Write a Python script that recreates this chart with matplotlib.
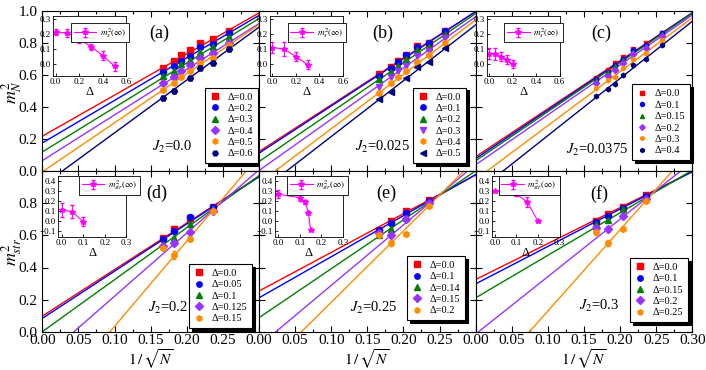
import numpy as np
import matplotlib
matplotlib.use('Agg')
import matplotlib.pyplot as plt
from matplotlib.ticker import MultipleLocator, FuncFormatter

plt.rcParams['font.family'] = 'serif'
plt.rcParams['font.serif'] = ['Liberation Serif', 'DejaVu Serif']
plt.rcParams['mathtext.fontset'] = 'stix'

W, H = 706, 370
COLORS = ['#ff0000', '#0000ff', '#008000', '#9933ff', '#ff8c00', '#000080']
MAGENTA = '#ff00ff'

# 1/sqrt(N) of the clusters
X_TOP = [0.1667, 0.1826, 0.1925, 0.2041, 0.2182, 0.2357, 0.2582]
X_BOT = [0.1667, 0.1826, 0.2041, 0.2357]

# ---- (a) J2 = 0.0
A_DELTA = ['0.0', '0.2', '0.3', '0.4', '0.5', '0.6']
A_Y = [[0.645, 0.689, 0.722, 0.756, 0.801, 0.822, 0.876],
       [0.619, 0.656, 0.687, 0.718, 0.773, 0.793, 0.860],
       [0.592, 0.627, 0.667, 0.693, 0.745, 0.776, 0.835],
       [0.548, 0.589, 0.627, 0.662, 0.708, 0.739, 0.801],
       [0.507, 0.548, 0.588, 0.625, 0.673, 0.708, 0.785],
       [0.455, 0.502, np.nan, 0.583, 0.645, 0.673, 0.760]]
A_B = [0.218, 0.176, 0.120, 0.066, -0.004, -0.090]
A_M = [2.56, 2.65, 2.77, 2.846, 3.056, 3.29]
A_INS_D = [0.0, 0.1, 0.2, 0.3, 0.4, 0.5]
A_INS_M = [0.213, 0.206, 0.167, 0.116, 0.056, -0.014]
A_INS_E = [0.02, 0.025, 0.025, 0.02, 0.03, 0.03]

# ---- (b) J2 = 0.025
B_DELTA = ['0.0', '0.1', '0.2', '0.3', '0.4', '0.5']
B_Y = [[0.604, 0.648, 0.689, 0.725, 0.783, 0.801, 0.874],
       [0.594, 0.642, 0.683, 0.721, 0.773, 0.797, 0.872],
       [0.575, 0.621, 0.656, 0.698, 0.756, 0.776, 0.854],
       [0.527, 0.586, 0.625, 0.658, 0.718, 0.750, 0.829],
       [0.486, 0.552, 0.586, 0.627, 0.683, 0.725, 0.801],
       [0.450, 0.496, np.nan, 0.583, 0.648, 0.679, 0.766]]
B_B = [0.122, 0.112, 0.060, 0.004, -0.075, -0.132]
B_M = [2.91, 2.94, 3.075, 3.195, 3.39, 3.478]
B_INS_D = [0.0, 0.1, 0.2, 0.3]
B_INS_M = [0.11, 0.10, 0.05, -0.005]
B_INS_E = [0.035, 0.045, 0.03, 0.03]

# ---- (c) J2 = 0.0375
C_DELTA = ['0.0', '0.1', '0.15', '0.2', '0.3', '0.4']
C_Y = [[0.579, 0.631, 0.673, 0.710, 0.762, 0.797, 0.864],
       [0.573, 0.621, 0.662, 0.700, 0.756, 0.787, 0.860],
       [0.569, 0.615, 0.656, 0.694, 0.745, 0.781, 0.855],
       [0.548, 0.596, 0.631, 0.673, 0.731, 0.766, 0.843],
       [0.517, 0.569, 0.589, 0.642, 0.698, 0.735, 0.818],
       [0.469, 0.511, 0.542, 0.600, 0.662, 0.698, 0.787]]
C_B = [0.090, 0.078, 0.065, 0.040, -0.052, -0.134]
C_M = [2.99, 3.03, 3.06, 3.11, 3.36, 3.56]
C_INS_D = [0.0, 0.05, 0.1, 0.15, 0.2]
C_INS_M = [0.07, 0.07, 0.05, 0.03, 0.0]
C_INS_E = [0.035, 0.04, 0.03, 0.03, 0.025]

# ---- (d) J2 = 0.2
D_DELTA = ['0.0', '0.05', '0.1', '0.125', '0.15']
D_Y = [[0.583, 0.639, 0.711, 0.780],
       [0.579, 0.629, 0.716, 0.775],
       [0.548, 0.583, 0.672, 0.763],
       [0.536, 0.552, 0.620, 0.755],
       [0.521, 0.476, 0.579, 0.753]]
D_ERR = [[0.01, 0.01, 0.01, 0.01],
         [0.01, 0.01, 0.01, 0.01],
         [0.01, 0.015, 0.01, 0.01],
         [0.012, 0.02, 0.01, 0.01],
         [0.015, 0.025, 0.015, 0.01]]
D_B = [0.097, 0.083, 0.0, -0.173, -0.498]
D_M = [2.90, 2.94, 3.24, 3.94, 5.31]
D_INS_D = [0.0, 0.05, 0.1]
D_INS_M = [0.11, 0.095, -0.006]
D_INS_E = [0.07, 0.06, 0.045]

# ---- (e) J2 = 0.25
E_DELTA = ['0.0', '0.1', '0.14', '0.15', '0.2']
E_Y = [[0.635, 0.691, 0.753, 0.821],
       [0.631, 0.676, 0.738, 0.815],
       [0.604, 0.639, 0.707, 0.806],
       [0.614, 0.600, 0.703, 0.800],
       [0.600, 0.552, 0.608, 0.786]]
E_ERR = [[0.01, 0.01, 0.01, 0.01],
         [0.01, 0.01, 0.01, 0.01],
         [0.01, 0.01, 0.01, 0.01],
         [0.012, 0.015, 0.01, 0.01],
         [0.012, 0.02, 0.01, 0.01]]
E_B = [0.253, 0.211, 0.087, -0.0886, -0.262]
E_M = [2.41, 2.56, 3.05, 3.77, 4.45]
E_INS_D = [0.0, 0.1, 0.125, 0.14, 0.15]
E_INS_M = [0.265, 0.233, 0.19, 0.084, -0.083]
E_INS_E = [0.04, 0.03, 0.02, 0.015, 0.01]

# ---- (f) J2 = 0.3
F_DELTA = ['0.0', '0.1', '0.15', '0.2', '0.25']
F_Y = [[0.691, 0.734, 0.780, 0.852],
       [0.682, 0.722, 0.769, 0.848],
       [0.670, 0.697, 0.763, 0.836],
       [0.645, 0.641, 0.722, 0.828],
       [0.620, 0.552, 0.641, 0.815]]
F_ERR = [[0.01, 0.01, 0.01, 0.01],
         [0.01, 0.01, 0.01, 0.01],
         [0.01, 0.01, 0.01, 0.01],
         [0.012, 0.02, 0.01, 0.01],
         [0.015, 0.02, 0.01, 0.01]]
F_B = [0.325, 0.298, 0.211, -0.015, -0.377]
F_M = [2.24, 2.33, 2.65, 3.58, 5.06]
F_INS_D = [0.0, 0.1, 0.15, 0.2]
F_INS_M = [0.30, 0.267, 0.19, 0.0]
F_INS_E = [0.01, 0.02, 0.045, 0.01]


def px_axes(fig, x0, y0, w, h):
    return fig.add_axes([x0 / W, 1 - (y0 + h) / H, w / W, h / H])


def draw_panel(ax, xs, ys, errs, deltas, icpt, slope, markers, ms, tag, j2, tag_xy, j2_xy, leg_xy):
    xfit = np.linspace(0, 0.3, 50)
    for i, d in enumerate(deltas):
        c = COLORS[i]
        ax.plot(xfit, icpt[i] + slope[i] * xfit, color=c, lw=1.0, zorder=2)
        if errs is not None:
            ax.errorbar(xs, ys[i], yerr=errs[i], fmt='none', ecolor=c, elinewidth=0.8, capsize=1.5, zorder=3)
        ax.plot(xs, ys[i], linestyle='none', marker=markers[i], color=c, ms=ms, mec=c,
                label='\u0394=' + d, zorder=4)
    ax.set_xlim(0, 0.3)
    ax.set_ylim(0, 1.0)
    ax.xaxis.set_major_locator(MultipleLocator(0.05))
    ax.xaxis.set_minor_locator(MultipleLocator(0.025))
    ax.yaxis.set_major_locator(MultipleLocator(0.2))
    ax.tick_params(which='both', direction='in', top=True, right=True, labelsize=11)
    ax.tick_params(which='major', length=4, width=0.8)
    ax.tick_params(which='minor', length=2.5, width=0.8)
    ax.tick_params(axis='x', pad=2)
    leg = ax.legend(loc='lower right', bbox_to_anchor=leg_xy, fontsize=7.5, frameon=True,
                    fancybox=False, shadow={'color': 'black', 'alpha': 1}, edgecolor='black',
                    framealpha=1, labelspacing=0.2, handlelength=1.0, handletextpad=0.7,
                    borderpad=0.45, borderaxespad=0, markerscale=0.9)
    leg.get_frame().set_linewidth(0.8)
    ax.text(tag_xy[0], tag_xy[1], tag, transform=ax.transAxes, fontsize=13, ha='center', va='center')
    ax.text(j2_xy[0], j2_xy[1], r'$J_2$=' + j2, transform=ax.transAxes, fontsize=10.5,
            ha='center', va='center')


def draw_inset(ax, d, m, e, label, top, leg_xy):
    ax.errorbar(d, m, yerr=e, color=MAGENTA, marker='*', ms=4, lw=0.8, elinewidth=0.8,
                capsize=1.5, label=label)
    if top:
        ax.set_xlim(-0.02, 0.6)
        ax.set_ylim(-0.08, 0.32)
        ax.xaxis.set_major_locator(MultipleLocator(0.2))
    else:
        ax.set_xlim(-0.015, 0.3)
        ax.set_ylim(-0.15, 0.45)
        ax.xaxis.set_major_locator(MultipleLocator(0.1))
    ax.yaxis.set_major_locator(MultipleLocator(0.1))
    ax.tick_params(direction='in', labelsize=6.5, length=2, pad=1.5, width=0.6)
    for s in ax.spines.values():
        s.set_linewidth(0.6)
    ax.set_xlabel('\u0394', fontsize=9, labelpad=0)
    leg = ax.legend(loc='upper right', bbox_to_anchor=leg_xy, fontsize=6.5, frameon=True,
                    fancybox=False, edgecolor='black', framealpha=1, handlelength=2.5,
                    borderpad=0.3, handletextpad=0.4, borderaxespad=0)
    leg.get_frame().set_linewidth(0.6)


fig = plt.figure(figsize=(W / 100, H / 100), dpi=100)

PW, PH = 216.67, 160.5
X0, Y0 = 42.3, 10.7

panels = [
    (X_TOP, A_Y, None, A_DELTA, A_B, A_M, ['s', 'o', '^', 'D', 'h', 'H'], 4.3, '(a)', '0.0',
     (0.54, 0.86), (0.6, 0.15), (0.995, 0.05)),
    (X_TOP, B_Y, None, B_DELTA, B_B, B_M, ['s', 'o', '^', 'v', 'h', '<'], 4.3, '(b)', '0.025',
     (0.57, 0.86), (0.57, 0.15), (0.955, 0.05)),
    (X_TOP, C_Y, None, C_DELTA, C_B, C_M, ['s', 'o', '^', 'D', 'h', 'h'], 3.2, '(c)', '0.0375',
     (0.58, 0.86), (0.56, 0.13), (0.99, 0.07)),
    (X_BOT, D_Y, D_ERR, D_DELTA, D_B, D_M, ['s', 'o', '^', 'D', 'h'], 4.3, '(d)', '0.2',
     (0.53, 0.86), (0.58, 0.15), (0.968, 0.023)),
    (X_BOT, E_Y, E_ERR, E_DELTA, E_B, E_M, ['s', 'o', '^', 'D', 'h'], 4.3, '(e)', '0.25',
     (0.59, 0.86), (0.53, 0.15), (0.951, 0.073)),
    (X_BOT, F_Y, F_ERR, F_DELTA, F_B, F_M, ['s', 'o', '^', 'D', 'h'], 4.3, '(f)', '0.3',
     (0.57, 0.86), (0.57, 0.16), (0.981, 0.06)),
]

insets = [
    (A_INS_D, A_INS_M, A_INS_E, r'$m^2_s(\infty)$', (1.04, 0.88)),
    (B_INS_D, B_INS_M, B_INS_E, r'$m^2_s(\infty)$', (1.04, 0.88)),
    (C_INS_D, C_INS_M, C_INS_E, r'$m^2_s(\infty)$', (1.04, 0.88)),
    (D_INS_D, D_INS_M, D_INS_E, r'$m^2_{str}(\infty)$', (1.2, 1.0)),
    (E_INS_D, E_INS_M, E_INS_E, r'$m^2_{str}(\infty)$', (1.08, 1.0)),
    (F_INS_D, F_INS_M, F_INS_E, r'$m^2_{str}(\infty)$', (1.0, 1.0)),
]

for k, p in enumerate(panels):
    r, c = divmod(k, 3)
    ax = px_axes(fig, X0 + c * PW, Y0 + r * PH, PW, PH)
    draw_panel(ax, *p)
    if r == 0:
        ax.tick_params(labelbottom=False)
    else:
        last = (c == 2)
        ax.xaxis.set_major_formatter(FuncFormatter(
            lambda v, pos, last=last: '' if (v > 0.29 and not last) else f'{v:.2f}'))
        ax.yaxis.set_major_formatter(FuncFormatter(lambda v, pos: '' if v > 0.9 else f'{v:.1f}'))
    if c > 0:
        ax.tick_params(labelleft=False)
    elif r == 0:
        ax.yaxis.set_major_formatter(FuncFormatter(lambda v, pos: f'{v:.1f}'))

    ins = insets[k]
    if r == 0:
        iax = px_axes(fig, X0 + c * PW + 11, 16, 73, 60)
        draw_inset(iax, ins[0], ins[1], ins[2], ins[3], True, ins[4])
    else:
        iax = px_axes(fig, X0 + c * PW + 16, 175.5, 68, 61)
        draw_inset(iax, ins[0], ins[1], ins[2], ins[3], False, ins[4])

fig.text(12 / W, 1 - 92 / H, r'$m^2_N$', rotation=90, fontsize=13, ha='center', va='center')
fig.text(12 / W, 1 - 252 / H, r'$m^2_{str}$', rotation=90, fontsize=13, ha='center', va='center')
for c in range(3):
    fig.text((X0 + c * PW + PW / 2) / W, 1 - 359 / H, r'$1\,/\,\sqrt{N}$', fontsize=11,
             ha='center', va='center')

fig.savefig('out.png', dpi=100)
